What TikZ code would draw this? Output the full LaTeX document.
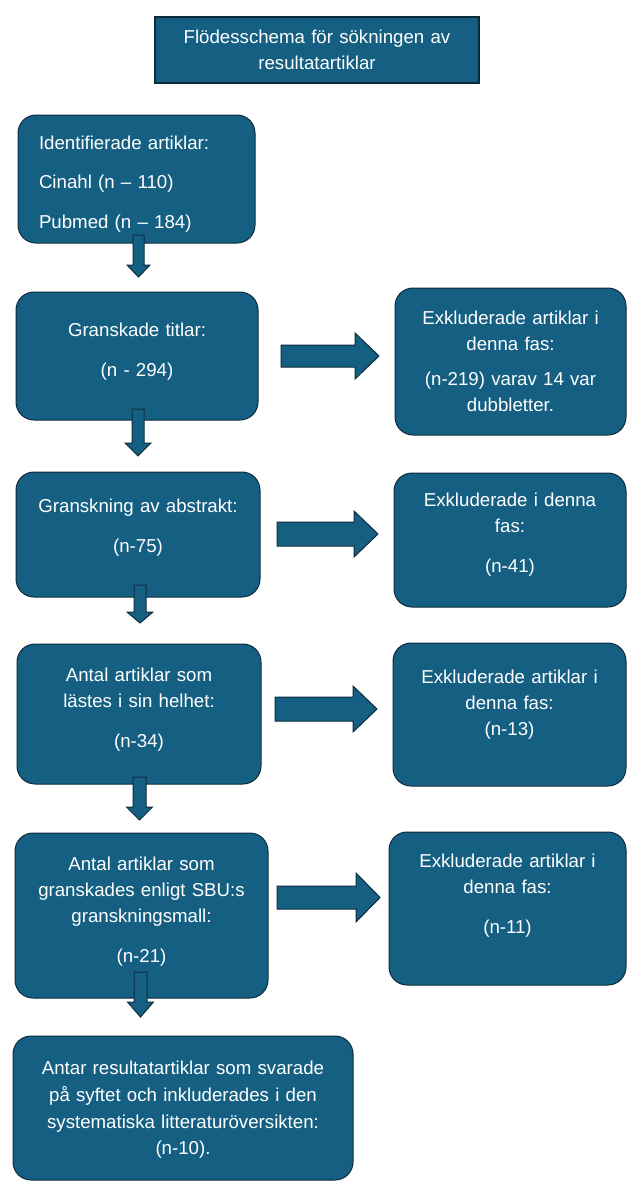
\documentclass[tikz,border=0pt]{standalone}
\usepackage{fontspec}
\setmainfont{Liberation Sans}
\definecolor{boxblue}{HTML}{156082}
\definecolor{boxline}{HTML}{0E2B3D}
\newcommand{\gapbelow}[1]{\par\vspace*{#1}}
\tikzset{
  flowbox/.style={draw=boxline, fill=boxblue, line width=0.75pt, rounded corners=13.5pt,
    text=white, align=center, inner xsep=6pt, inner ysep=0pt,
    font=\fontsize{14}{19.5}\selectfont},
  headbox/.style={flowbox, rounded corners=0pt, line width=1.1pt},
  blockarr/.style={draw=boxline, fill=boxblue, line width=0.75pt}
}
\begin{document}
\begin{tikzpicture}[x=0.75pt, y=-0.75pt]
\useasboundingbox (0,0) rectangle (626,1182);
% title
\node[headbox, minimum width=243pt, minimum height=49.5pt, text width=231pt] (title) at (317,50)
    {Flödesschema för sökningen av\\resultatartiklar};
% main column
\node[flowbox, align=left, inner xsep=15.75pt, minimum width=177.75pt, minimum height=96pt, text width=146.25pt] (b1) at (136.5,179)
    {Identifierade artiklar:\\[10pt]Cinahl (n – 110)\\[10pt]Pubmed (n – 184)\gapbelow{-7.5pt}};
\node[flowbox, minimum width=181.5pt, minimum height=96pt, text width=169.5pt] (b2) at (137,356)
    {Granskade titlar:\\[10.5pt](n - 294)\gapbelow{6pt}};
\node[flowbox, minimum width=183pt, minimum height=93.75pt, text width=171pt] (b3) at (138,534.5)
    {Granskning av abstrakt:\\[10.5pt](n-75)\gapbelow{9.75pt}};
\node[flowbox, minimum width=183pt, minimum height=105pt, text width=171pt] (b4) at (139,714)
    {Antal artiklar som\\lästes i sin helhet:\\[10.5pt](n-34)\gapbelow{6.75pt}};
\node[flowbox, minimum width=189.75pt, minimum height=123.75pt, text width=177.75pt] (b5) at (141.5,915.5)
    {Antal artiklar som\\granskades enligt SBU:s\\granskningsmall:\\[10.5pt](n-21)\gapbelow{5.25pt}};
\node[flowbox, minimum width=255pt, minimum height=108pt, text width=243pt] (b6) at (183,1108)
    {Antar resultatartiklar som svarade\\[0.5pt]på syftet och inkluderades i den\\[0.5pt]systematiska litteraturöversikten:\\[0.5pt](n-10).\gapbelow{-3pt}};
% excluded column
\node[flowbox, minimum width=173.25pt, minimum height=110.25pt, text width=161.25pt] (e2) at (510.5,361.5)
    {Exkluderade artiklar i\\denna fas:\\[6.75pt](n-219) varav 14 var\\dubbletter.};
\node[flowbox, minimum width=174pt, minimum height=100.5pt, text width=162pt] (e3) at (510,540)
    {Exkluderade i denna\\fas:\\[10.5pt](n-41)\gapbelow{8.25pt}};
\node[flowbox, minimum width=174.75pt, minimum height=107.25pt, text width=162.75pt] (e4) at (509.5,714.5)
    {Exkluderade artiklar i\\denna fas:\\(n-13)\gapbelow{15pt}};
\node[flowbox, minimum width=177.75pt, minimum height=114.75pt, text width=165.75pt] (e5) at (507.5,908.5)
    {Exkluderade artiklar i\\denna fas:\\[10.5pt](n-11)\gapbelow{18.75pt}};
% arrows down
\coordinate (d1) at (138.5,235);
\coordinate (d2) at (138,409);
\coordinate (d3) at (140,585);
\coordinate (d4) at (139.5,777);
\coordinate (d5) at (140.5,972);
\draw[blockarr] (d1) ++(-5.5,0) -- ++(11,0) -- ++(0,30) -- ++(6,0) -- ++(-11.5,12) -- ++(-11.5,-12) -- ++(6,0) -- cycle;
\draw[blockarr] (d2) ++(-6,0) -- ++(12,0) -- ++(0,34) -- ++(7,0) -- ++(-13,13) -- ++(-13,-13) -- ++(7,0) -- cycle;
\draw[blockarr] (d3) ++(-6,0) -- ++(12,0) -- ++(0,27) -- ++(7,0) -- ++(-13,11) -- ++(-13,-11) -- ++(7,0) -- cycle;
\draw[blockarr] (d4) ++(-6.5,0) -- ++(13,0) -- ++(0,30) -- ++(6.5,0) -- ++(-13,13) -- ++(-13,-13) -- ++(6.5,0) -- cycle;
\draw[blockarr] (d5) ++(-6.5,0) -- ++(13,0) -- ++(0,30) -- ++(6.5,0) -- ++(-13,15) -- ++(-13,-15) -- ++(6.5,0) -- cycle;
% arrows right
\coordinate (r2) at (281,356);
\coordinate (r3) at (277,534);
\coordinate (r4) at (275,709);
\coordinate (r5) at (277,897.5);
\draw[blockarr] (r2) ++(0,-11) -- ++(74,0) -- ++(0,-12) -- ++(24,23) -- ++(-24,23) -- ++(0,-12) -- ++(-74,0) -- cycle;
\draw[blockarr] (r3) ++(0,-12) -- ++(77,0) -- ++(0,-11) -- ++(24,23) -- ++(-24,23) -- ++(0,-11) -- ++(-77,0) -- cycle;
\draw[blockarr] (r4) ++(0,-12) -- ++(78,0) -- ++(0,-11) -- ++(24,23) -- ++(-24,23) -- ++(0,-11) -- ++(-78,0) -- cycle;
\draw[blockarr] (r5) ++(0,-11.5) -- ++(79,0) -- ++(0,-13) -- ++(24,24.5) -- ++(-24,24.5) -- ++(0,-13) -- ++(-79,0) -- cycle;
\end{tikzpicture}
\end{document}
